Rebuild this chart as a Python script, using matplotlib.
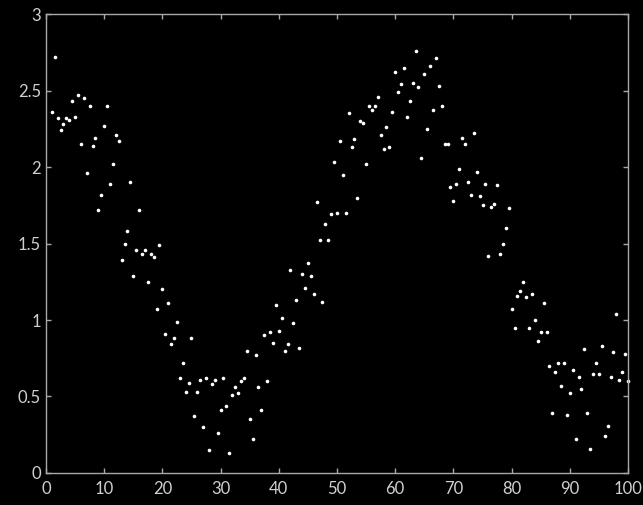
import numpy as np
import matplotlib
matplotlib.use("Agg")
import matplotlib.pyplot as plt

# samples every 0.5 from 1 to 100
x_start, x_stop, x_step = 1.0, 100.0, 0.5
y_values = [
    2.36, 2.72, 2.32, 2.24, 2.28, 2.32, 2.31, 2.43, 2.33, 2.47,
    2.15, 2.45, 1.96, 2.40, 2.14, 2.19, 1.72, 1.82, 2.27, 2.40,
    1.89, 2.02, 2.21, 2.17, 1.39, 1.50, 1.58, 1.90, 1.29, 1.46,
    1.72, 1.43, 1.46, 1.25, 1.43, 1.41, 1.07, 1.49, 1.20, 0.91,
    1.11, 0.84, 0.88, 0.99, 0.62, 0.72, 0.53, 0.59, 0.88, 0.37,
    0.53, 0.61, 0.30, 0.62, 0.15, 0.58, 0.61, 0.26, 0.41, 0.62,
    0.44, 0.13, 0.51, 0.56, 0.52, 0.60, 0.62, 0.80, 0.35, 0.22,
    0.77, 0.56, 0.41, 0.90, 0.60, 0.92, 0.85, 1.10, 0.93, 1.01,
    0.80, 0.84, 1.33, 0.98, 1.13, 0.82, 1.30, 1.21, 1.37, 1.29,
    1.17, 1.77, 1.52, 1.12, 1.63, 1.52, 1.69, 2.03, 1.70, 2.17,
    1.95, 1.70, 2.35, 2.13, 2.18, 1.80, 2.30, 2.29, 2.02, 2.40,
    2.37, 2.40, 2.46, 2.21, 2.12, 2.26, 2.13, 2.36, 2.62, 2.49,
    2.54, 2.65, 2.33, 2.43, 2.55, 2.76, 2.52, 2.06, 2.61, 2.25,
    2.66, 2.37, 2.71, 2.53, 2.40, 2.15, 2.15, 1.87, 1.78, 1.89,
    1.99, 2.19, 2.15, 1.90, 1.82, 2.22, 1.97, 1.81, 1.75, 1.89,
    1.42, 1.74, 1.76, 1.88, 1.43, 1.50, 1.60, 1.73, 1.07, 0.95,
    1.16, 1.19, 1.25, 1.15, 0.95, 1.17, 1.00, 0.86, 0.92, 1.11,
    0.92, 0.70, 0.39, 0.66, 0.72, 0.57, 0.72, 0.38, 0.52, 0.67,
    0.22, 0.63, 0.55, 0.81, 0.39, 0.16, 0.65, 0.72, 0.65, 0.83,
    0.24, 0.31, 0.63, 0.79, 1.04, 0.61, 0.66, 0.78, 0.60,
]
x_values = np.arange(x_start, x_stop + x_step / 2, x_step)

x_ticks = list(range(0, 101, 10))
y_ticks = [0, 0.5, 1, 1.5, 2, 2.5, 3]
y_tick_labels = ["0", "0.5", "1", "1.5", "2", "2.5", "3"]

plt.rcParams["font.family"] = ["Liberation Sans Narrow", "Lato", "DejaVu Sans"]

fig = plt.figure(figsize=(6.43, 5.05), dpi=100, facecolor="black")
ax = fig.add_axes([0.0715, 0.0634, 0.9052, 0.9088], facecolor="black")

ax.plot(x_values, y_values, "o", color="white", markersize=2.6,
        markeredgewidth=0, clip_on=False)

ax.set_xlim(0, 100)
ax.set_ylim(0, 3)
ax.set_xticks(x_ticks)
ax.set_yticks(y_ticks)
ax.set_yticklabels(y_tick_labels)

edge = "#a8a8a8"
for spine in ax.spines.values():
    spine.set_color(edge)
    spine.set_linewidth(1.0)
ax.tick_params(direction="in", length=3.5, width=1, color=edge,
               labelcolor="#d0d0d0", labelsize=12,
               top=True, right=True)
ax.tick_params(axis="x", pad=6)

fig.savefig("out.png", dpi=100, facecolor="black")
